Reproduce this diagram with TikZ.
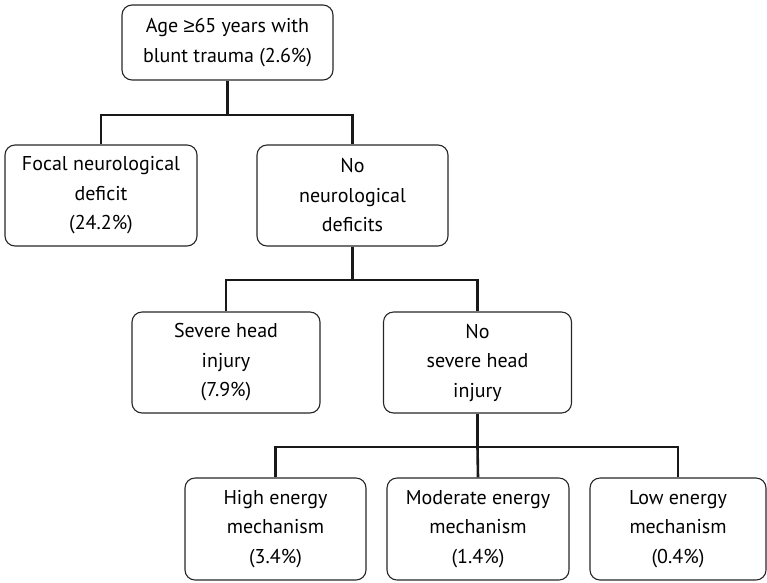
\documentclass[tikz,border=0pt]{standalone}
\usepackage{fontspec}
\setmainfont{PT Sans}
\newfontfamily\symfnt{Liberation Sans}
\begin{document}
\begin{tikzpicture}[x=1pt,y=-1pt,
  box/.style={draw=black!85,line width=1.1pt,rounded corners=10pt,align=center,
    font=\fontsize{20}{29.5}\selectfont,inner sep=0pt,minimum height=101pt},
  conn/.style={draw=black!90,line width=2.6pt}]
\useasboundingbox (0,0) rectangle (767,582);
\node[box,minimum width=211pt,minimum height=75pt] (top) at (227.5,42.5) {Age {\symfnt ≥}65 years with\\blunt trauma (2.6\%)};
\node[box,minimum width=192pt] (focal) at (101,195.5) {Focal neurological\\deficit\\(24.2\%)};
\node[box,minimum width=191pt] (noneuro) at (352.5,195.5) {No\\neurological\\deficits};
\node[box,minimum width=188pt] (severe) at (226,362.5) {Severe head\\injury\\(7.9\%)};
\node[box,minimum width=188pt] (nosevere) at (477.5,362.5) {No\\severe head\\injury};
\node[box,minimum width=181pt,minimum height=102pt] (high) at (275.5,529) {High energy\\mechanism\\(3.4\%)};
\node[box,minimum width=182pt,minimum height=102pt] (moderate) at (478,529) {Moderate energy\\mechanism\\(1.4\%)};
\node[box,minimum width=176pt,minimum height=102pt] (low) at (678,529) {Low energy\\mechanism\\(0.4\%)};
\coordinate (j1) at (227.5,115);
\coordinate (j2) at (352.5,280);
\coordinate (j3) at (477.5,447);
\draw[conn] (top.south) -- (j1);
\draw[conn] (focal.north) |- (j1) -| (noneuro.north);
\draw[conn] (noneuro.south) -- (j2);
\draw[conn] (severe.north) |- (j2) -| (nosevere.north);
\draw[conn] (nosevere.south) -- (j3);
\draw[conn] (high.north) |- (j3) -| (low.north);
\draw[conn] (j3) -- (moderate.north);
\end{tikzpicture}
\end{document}
